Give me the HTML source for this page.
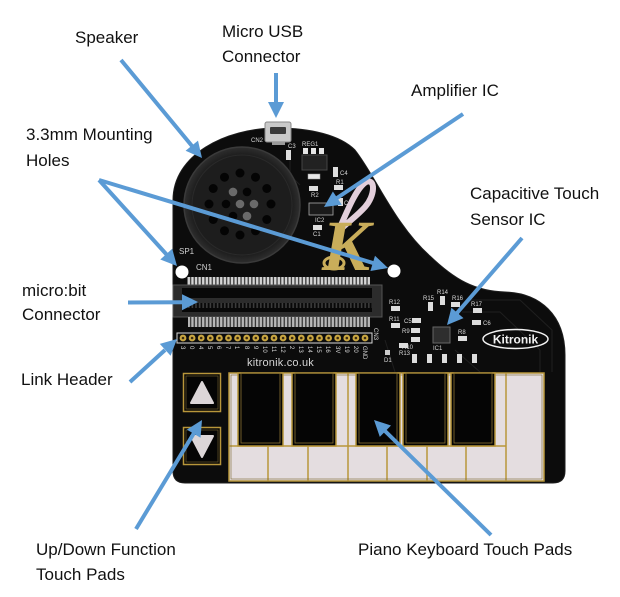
<!DOCTYPE html>
<html>
<head>
<meta charset="utf-8">
<style>
  html,body{margin:0;padding:0;background:#fff;}
  body{width:620px;height:597px;overflow:hidden;}
  svg{display:block;}
  .lbl{font-family:"Liberation Sans",Arial,sans-serif;font-size:17px;fill:#111;}
  .tiny{font-family:"Liberation Sans",Arial,sans-serif;font-size:6px;fill:#d8d8d8;}
  .sm{font-family:"Liberation Sans",Arial,sans-serif;font-size:8px;fill:#d0d0d0;}
</style>
</head>
<body>
<svg width="620" height="597" viewBox="0 0 620 597" xmlns="http://www.w3.org/2000/svg">
  <defs>
    <pattern id="pinsW" x="0" y="0" width="3.6" height="20" patternUnits="userSpaceOnUse">
      <rect x="0" y="0" width="3.6" height="20" fill="#3a3a3a"/>
      <rect x="0.5" y="0" width="2.3" height="20" fill="#d6d6d6"/>
    </pattern>
    <pattern id="pinsD" x="0" y="0" width="3.6" height="20" patternUnits="userSpaceOnUse">
      <rect x="0" y="0" width="3.6" height="20" fill="#080808"/>
      <rect x="0.8" y="2" width="1.6" height="6" fill="#3c3c3c"/>
    </pattern>
    <radialGradient id="spk" cx="50%" cy="50%" r="50%">
      <stop offset="0%" stop-color="#262626"/>
      <stop offset="85%" stop-color="#1c1c1c"/>
      <stop offset="100%" stop-color="#2e2e2e"/>
    </radialGradient>
  </defs>

  <!-- Board -->
  <path d="M 185,483 Q 173,483 173,471 L 173,200 C 173,155 225,128 277,128 C 310,128 340,135 355,150 C 375,175 395,225 430,256 C 455,280 475,291 505,292 C 540,293 565,315 565,355 L 565,471 Q 565,483 553,483 Z" fill="#0c0c0c" stroke="#1e1e1e" stroke-width="1"/>

  <!-- faint traces -->
  <g stroke="#1f1f1f" stroke-width="1" fill="none">
    <path d="M 470,300 L 520,300 L 552,330 L 552,372"/>
    <path d="M 462,312 L 500,312 L 540,350 L 540,372"/>
    <path d="M 455,350 L 480,372"/>
    <path d="M 385,340 L 395,372"/>
    <path d="M 290,150 L 290,175 L 300,185"/>
  </g>

  <!-- Speaker -->
  <circle cx="242" cy="205" r="58" fill="url(#spk)" stroke="#3a3a3a" stroke-width="1.5"/>
  <circle cx="242" cy="205" r="50" fill="#1d1d1d" stroke="#2a2a2a" stroke-width="1"/>
  <g fill="#040404">
    <circle cx="271" cy="204" r="4.5"/>
    <circle cx="266.8" cy="219.5" r="4.5"/>
    <circle cx="255.5" cy="230.8" r="4.5"/>
    <circle cx="240" cy="235" r="4.5"/>
    <circle cx="224.5" cy="230.8" r="4.5"/>
    <circle cx="213.2" cy="219.5" r="4.5"/>
    <circle cx="209" cy="204" r="4.5"/>
    <circle cx="213.2" cy="188.5" r="4.5"/>
    <circle cx="224.5" cy="177.2" r="4.5"/>
    <circle cx="240" cy="173" r="4.5"/>
    <circle cx="255.5" cy="177.2" r="4.5"/>
    <circle cx="266.8" cy="188.5" r="4.5"/>
    <circle cx="226" cy="204" r="4.3"/>
    <circle cx="233" cy="216.1" r="4.3"/>
    <circle cx="247" cy="191.9" r="4.3"/>
  </g>
  <g fill="#6a6a6a">
    <circle cx="254" cy="204" r="4.3"/>
    <circle cx="247" cy="216.1" r="4.3"/>
    <circle cx="233" cy="191.9" r="4.3"/>
    <circle cx="240" cy="204" r="4.3"/>
  </g>

  <!-- Micro USB -->
  <rect x="265" y="122" width="26" height="20" rx="2" fill="#c9c9c9" stroke="#888" stroke-width="1"/>
  <rect x="270" y="127" width="16" height="7" rx="1" fill="#3a3a3a"/>
  <rect x="272" y="142" width="13" height="3" fill="#9a9a9a"/>
  <text x="251" y="142" class="tiny">CN2</text>

  <!-- Upper components -->
  <rect x="286" y="150" width="5" height="10" fill="#ddd"/>
  <text x="288" y="148" class="tiny">C3</text>
  <text x="302" y="146" class="tiny">REG1</text>
  <rect x="303" y="148" width="5" height="6" fill="#e5e5e5"/>
  <rect x="311" y="148" width="5" height="6" fill="#e5e5e5"/>
  <rect x="319" y="148" width="5" height="6" fill="#e5e5e5"/>
  <rect x="302" y="155" width="25" height="15" fill="#222" stroke="#444" stroke-width="1"/>
  <rect x="333" y="167" width="5" height="10" fill="#ddd"/>
  <text x="340" y="175" class="tiny">C4</text>
  <rect x="308" y="174" width="12" height="5" fill="#e8e8e8" stroke="#999" stroke-width="0.5"/>
  <rect x="334" y="185" width="9" height="5" fill="#ddd"/>
  <text x="336" y="184" class="tiny">R1</text>
  <rect x="309" y="186" width="9" height="5" fill="#ddd"/>
  <text x="311" y="197" class="tiny">R2</text>
  <rect x="309" y="203" width="24" height="12" fill="#1a1a1a" stroke="#aaa" stroke-width="0.8"/>
  <rect x="338" y="198" width="5" height="8" fill="#ddd"/>
  <text x="344" y="205" class="tiny">C2</text>
  <text x="315" y="222" class="tiny">IC2</text>
  <rect x="313" y="225" width="9" height="5" fill="#ddd"/>
  <text x="313" y="236" class="tiny">C1</text>

  <!-- Logo swirl and K -->
  <path d="M 338,232 C 346,214 356,188 366,182 C 376,178 375,196 365,207 C 357,216 348,222 340,230" fill="none" stroke="#e3cfdb" stroke-width="6" stroke-linecap="round"/>
  <text x="322" y="270" font-family="Liberation Serif, serif" font-style="italic" font-weight="bold" font-size="72" fill="#c9ad5a">K</text>
  <ellipse cx="334" cy="263" rx="10" ry="6" fill="none" stroke="#c9ad5a" stroke-width="3"/>

  <!-- Labels on board -->
  <text x="179" y="254" class="sm">SP1</text>
  <text x="196" y="270" class="sm">CN1</text>

  <!-- Mounting holes -->
  <circle cx="182" cy="272" r="6.5" fill="#fff"/>
  <circle cx="394" cy="271" r="6.5" fill="#fff"/>

  <!-- micro:bit connector -->
  <rect x="187" y="277" width="183" height="8" fill="url(#pinsW)"/>
  <rect x="173" y="285" width="209" height="32" fill="#2c2c2c" stroke="#555" stroke-width="1"/>
  <rect x="182" y="288" width="190" height="10" fill="url(#pinsD)"/>
  <rect x="182" y="303" width="190" height="9" fill="url(#pinsD)"/>
  <rect x="188" y="317" width="182" height="10" fill="url(#pinsW)" opacity="0.85"/>

  <!-- Link header -->
  <rect x="177" y="333" width="195" height="10" fill="none" stroke="#d8d8d8" stroke-width="1"/>
  <g fill="#c9a640">
    <circle cx="183" cy="338" r="3.4"/><circle cx="192.1" cy="338" r="3.4"/><circle cx="201.2" cy="338" r="3.4"/>
    <circle cx="210.3" cy="338" r="3.4"/><circle cx="219.4" cy="338" r="3.4"/><circle cx="228.5" cy="338" r="3.4"/>
    <circle cx="237.6" cy="338" r="3.4"/><circle cx="246.7" cy="338" r="3.4"/><circle cx="255.8" cy="338" r="3.4"/>
    <circle cx="264.9" cy="338" r="3.4"/><circle cx="274" cy="338" r="3.4"/><circle cx="283.1" cy="338" r="3.4"/>
    <circle cx="292.2" cy="338" r="3.4"/><circle cx="301.3" cy="338" r="3.4"/><circle cx="310.4" cy="338" r="3.4"/>
    <circle cx="319.5" cy="338" r="3.4"/><circle cx="328.6" cy="338" r="3.4"/><circle cx="337.7" cy="338" r="3.4"/>
    <circle cx="346.8" cy="338" r="3.4"/><circle cx="355.9" cy="338" r="3.4"/><circle cx="365" cy="338" r="3.4"/>
  </g>
  <g fill="#3a2a10">
    <circle cx="183" cy="338" r="1.3"/><circle cx="192.1" cy="338" r="1.3"/><circle cx="201.2" cy="338" r="1.3"/>
    <circle cx="210.3" cy="338" r="1.3"/><circle cx="219.4" cy="338" r="1.3"/><circle cx="228.5" cy="338" r="1.3"/>
    <circle cx="237.6" cy="338" r="1.3"/><circle cx="246.7" cy="338" r="1.3"/><circle cx="255.8" cy="338" r="1.3"/>
    <circle cx="264.9" cy="338" r="1.3"/><circle cx="274" cy="338" r="1.3"/><circle cx="283.1" cy="338" r="1.3"/>
    <circle cx="292.2" cy="338" r="1.3"/><circle cx="301.3" cy="338" r="1.3"/><circle cx="310.4" cy="338" r="1.3"/>
    <circle cx="319.5" cy="338" r="1.3"/><circle cx="328.6" cy="338" r="1.3"/><circle cx="337.7" cy="338" r="1.3"/>
    <circle cx="346.8" cy="338" r="1.3"/><circle cx="355.9" cy="338" r="1.3"/><circle cx="365" cy="338" r="1.3"/>
  </g>
  <g class="tiny" font-size="5.5">
    <text transform="translate(181,346) rotate(90)" class="tiny">3</text>
    <text transform="translate(190,346) rotate(90)" class="tiny">0</text>
    <text transform="translate(199,346) rotate(90)" class="tiny">4</text>
    <text transform="translate(208,346) rotate(90)" class="tiny">5</text>
    <text transform="translate(217,346) rotate(90)" class="tiny">6</text>
    <text transform="translate(226,346) rotate(90)" class="tiny">7</text>
    <text transform="translate(235,346) rotate(90)" class="tiny">1</text>
    <text transform="translate(245,346) rotate(90)" class="tiny">8</text>
    <text transform="translate(254,346) rotate(90)" class="tiny">9</text>
    <text transform="translate(263,346) rotate(90)" class="tiny">10</text>
    <text transform="translate(272,346) rotate(90)" class="tiny">11</text>
    <text transform="translate(281,346) rotate(90)" class="tiny">12</text>
    <text transform="translate(290,346) rotate(90)" class="tiny">2</text>
    <text transform="translate(299,346) rotate(90)" class="tiny">13</text>
    <text transform="translate(308,346) rotate(90)" class="tiny">14</text>
    <text transform="translate(317,346) rotate(90)" class="tiny">15</text>
    <text transform="translate(326,346) rotate(90)" class="tiny">16</text>
    <text transform="translate(336,346) rotate(90)" class="tiny">3V</text>
    <text transform="translate(345,346) rotate(90)" class="tiny">19</text>
    <text transform="translate(354,346) rotate(90)" class="tiny">20</text>
    <text transform="translate(363,346) rotate(90)" class="tiny">GND</text>
    <text transform="translate(374,328) rotate(90)" class="tiny">CN3</text>
  </g>
  <text x="247" y="366" font-family="Liberation Sans, sans-serif" font-size="11" fill="#d5d5d5" letter-spacing="0.2">kitronik.co.uk</text>

  <!-- Right components -->
  <text x="389" y="304" class="tiny">R12</text>
  <rect x="391" y="306" width="9" height="5" fill="#ddd"/>
  <text x="389" y="321" class="tiny">R11</text>
  <rect x="391" y="323" width="9" height="5" fill="#ddd"/>
  <text x="404" y="323" class="tiny">C5</text>
  <rect x="412" y="318" width="9" height="5" fill="#ddd"/>
  <text x="402" y="333" class="tiny">R9</text>
  <rect x="411" y="328" width="9" height="5" fill="#ddd"/>
  <rect x="411" y="337" width="9" height="5" fill="#ddd"/>
  <text x="402" y="349" class="tiny">R10</text>
  <rect x="399" y="343" width="9" height="5" fill="#ddd"/>
  <text x="399" y="355" class="tiny">R13</text>
  <rect x="385" y="350" width="5" height="5" fill="#ccc"/>
  <text x="384" y="362" class="tiny">D1</text>
  <text x="423" y="300" class="tiny">R15</text>
  <rect x="428" y="302" width="5" height="9" fill="#ddd"/>
  <text x="437" y="294" class="tiny">R14</text>
  <rect x="440" y="296" width="5" height="9" fill="#ddd"/>
  <text x="452" y="300" class="tiny">R16</text>
  <rect x="451" y="302" width="9" height="5" fill="#ddd"/>
  <rect x="454" y="312" width="5" height="6" fill="#ccc"/>
  <text x="471" y="306" class="tiny">R17</text>
  <rect x="473" y="308" width="9" height="5" fill="#ddd"/>
  <rect x="472" y="320" width="9" height="5" fill="#ddd"/>
  <text x="483" y="325" class="tiny">C6</text>
  <rect x="433" y="327" width="17" height="16" fill="#2e2e2e" stroke="#666" stroke-width="1"/>
  <text x="433" y="350" class="tiny">IC1</text>
  <text x="458" y="334" class="tiny">R8</text>
  <rect x="458" y="336" width="9" height="5" fill="#ddd"/>
  <g fill="#ddd">
    <rect x="412" y="354" width="5" height="9"/>
    <rect x="427" y="354" width="5" height="9"/>
    <rect x="442" y="354" width="5" height="9"/>
    <rect x="457" y="354" width="5" height="9"/>
    <rect x="472" y="354" width="5" height="9"/>
  </g>
  <ellipse cx="515.5" cy="339" rx="32.5" ry="9.5" fill="none" stroke="#f2f2f2" stroke-width="1.5"/>
  <text x="515.5" y="343.5" text-anchor="middle" font-family="Liberation Sans, sans-serif" font-weight="bold" font-size="12" fill="#f2f2f2">Kitronik</text>

  <!-- Up / Down buttons -->
  <rect x="183.5" y="373.5" width="37" height="38" fill="#050505" stroke="#b8963a" stroke-width="1.5"/>
  <rect x="186" y="376" width="32" height="33" fill="none" stroke="#6b5a2a" stroke-width="0.7"/>
  <polygon points="202,382 213,403 191,403" fill="#dcd6d8" stroke="#dcd6d8" stroke-width="2" stroke-linejoin="round"/>
  <rect x="183.5" y="427.5" width="37" height="37" fill="#050505" stroke="#b8963a" stroke-width="1.5"/>
  <rect x="186" y="430" width="32" height="32" fill="none" stroke="#6b5a2a" stroke-width="0.7"/>
  <polygon points="191,436 213,436 202,457" fill="#dcd6d8" stroke="#dcd6d8" stroke-width="2" stroke-linejoin="round"/>

  <!-- Keys -->
  <rect x="229" y="373" width="315" height="108" fill="#e4dde0" stroke="#b8963a" stroke-width="1.5"/>
  <g stroke="#b8963a" stroke-width="1.5" fill="none">
    <line x1="268" y1="446" x2="268" y2="481"/>
    <line x1="308" y1="446" x2="308" y2="481"/>
    <line x1="348" y1="373" x2="348" y2="481"/>
    <line x1="387" y1="446" x2="387" y2="481"/>
    <line x1="427" y1="446" x2="427" y2="481"/>
    <line x1="466" y1="446" x2="466" y2="481"/>
    <line x1="506" y1="373" x2="506" y2="481"/>
    <line x1="229" y1="446" x2="506" y2="446"/>
    <rect x="231" y="375" width="311" height="104" stroke="#7a6630" stroke-width="0.6"/>
  </g>
  <g fill="#050505" stroke="#b8963a" stroke-width="1.5">
    <rect x="238" y="373" width="45" height="73"/>
    <rect x="292" y="373" width="44" height="73"/>
    <rect x="356" y="373" width="44" height="73"/>
    <rect x="403" y="373" width="45" height="73"/>
    <rect x="451" y="373" width="44" height="73"/>
  </g>
  <g fill="none" stroke="#8a7233" stroke-width="0.8">
    <rect x="241" y="373" width="39" height="70"/>
    <rect x="295" y="373" width="38" height="70"/>
    <rect x="359" y="373" width="38" height="70"/>
    <rect x="406" y="373" width="39" height="70"/>
    <rect x="454" y="373" width="38" height="70"/>
  </g>

  <!-- Arrows -->
  <g stroke="#5b9bd5" stroke-width="4" stroke-linecap="butt" fill="none">
    <line x1="121" y1="60" x2="192" y2="146"/>
    <line x1="276" y1="73" x2="276" y2="103"/>
    <line x1="463" y1="114" x2="337" y2="198"/>
    <line x1="99" y1="180" x2="167" y2="255"/>
    <line x1="99" y1="180" x2="373" y2="263"/>
    <line x1="522" y1="238" x2="457" y2="313"/>
    <line x1="128" y1="302.5" x2="183" y2="302.2"/>
    <line x1="130" y1="382" x2="165" y2="350"/>
    <line x1="136" y1="529" x2="194" y2="433"/>
    <line x1="491" y1="535" x2="385" y2="431"/>
  </g>
  <g fill="#5b9bd5">
    <polygon points="202,158 185.6,150.8 198.0,140.6"/>
    <polygon points="276,118 268,102 284,102"/>
    <polygon points="324,207 332.9,191.5 341.8,204.8"/>
    <polygon points="177,266 160.3,259.5 172.2,248.8"/>
    <polygon points="388,268 370.4,271.0 375.0,255.7"/>
    <polygon points="447,325 451.4,307.7 463.5,318.1"/>
    <polygon points="198,302 182,294.2 182,310.2"/>
    <polygon points="177,339 170.6,355.7 159.8,343.9"/>
    <polygon points="202,420 200.55,437.8 186.85,429.6"/>
    <polygon points="374,420 391.0,425.5 379.8,436.9"/>
  </g>

  <!-- Labels -->
  <text x="75" y="43" class="lbl">Speaker</text>
  <text x="222" y="37" class="lbl">Micro USB</text>
  <text x="222" y="62" class="lbl">Connector</text>
  <text x="411" y="96" class="lbl">Amplifier IC</text>
  <text x="26" y="140" class="lbl">3.3mm Mounting</text>
  <text x="26" y="166" class="lbl">Holes</text>
  <text x="470" y="199" class="lbl">Capacitive Touch</text>
  <text x="470" y="225" class="lbl">Sensor IC</text>
  <text x="22" y="296" class="lbl">micro:bit</text>
  <text x="22" y="320" class="lbl">Connector</text>
  <text x="21" y="385" class="lbl">Link Header</text>
  <text x="36" y="555" class="lbl">Up/Down Function</text>
  <text x="36" y="580" class="lbl">Touch Pads</text>
  <text x="358" y="555" class="lbl">Piano Keyboard Touch Pads</text>
</svg>
</body>
</html>
